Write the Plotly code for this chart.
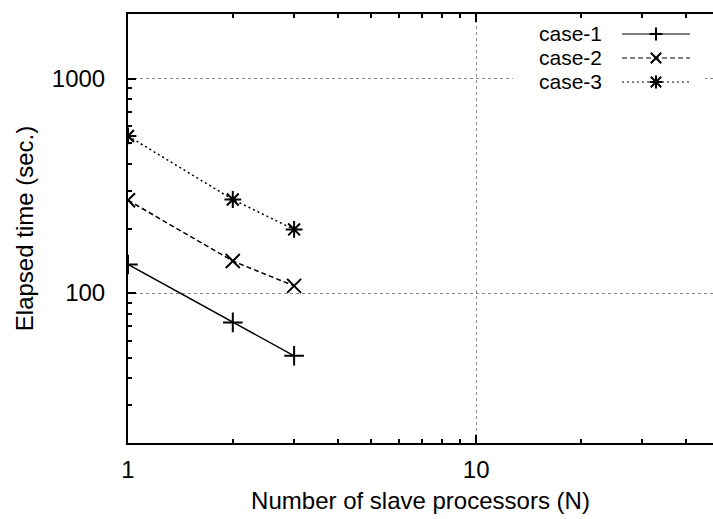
import numpy as np
import plotly.graph_objects as go

# ---- data ----
processors = [1, 2, 3]
case1 = [136, 73, 51]
case2 = [271, 141, 108]
case3 = [540, 273, 198]
series_names = ["case-1", "case-2", "case-3"]
x_tick_vals = [1, 10]
x_tick_text = ["1", "10"]
y_tick_vals = [100, 1000]
y_tick_text = ["100", "1000"]
x_minor = [2, 3, 4, 5, 6, 7, 8, 9, 20, 30, 40]
y_minor = [30, 40, 50, 60, 70, 80, 90, 200, 300, 400, 500, 600, 700, 800, 900, 2000]

FONT = "Liberation Sans, Arial, Helvetica, sans-serif"

W, H = 713, 519
ML, MR, MT, MB = 128, 0, 14, 76
PW, PH = W - ML - MR, H - MT - MB

def px(x):
    return (x - ML) / PW

def py(y):
    return (H - MB - y) / PH

styles = [
    dict(dash="solid", symbol="cross-thin-open"),
    dict(dash="5px,3px", symbol="x-thin-open"),
    dict(dash="2px,3px", symbol="asterisk-open"),
]

fig = go.Figure()
for name, vals, st in zip(series_names, [case1, case2, case3], styles):
    fig.add_trace(go.Scatter(
        x=processors, y=vals, name=name, mode="lines+markers",
        line=dict(color="black", width=1.5, dash=st["dash"]),
        marker=dict(symbol=st["symbol"], size=14, color="black",
                    line=dict(color="black", width=2)),
        showlegend=False,
    ))

# ---- hand-made gnuplot-style key (text right-aligned, sample to the right) ----
shapes = [dict(type="rect", xref="paper", yref="paper", layer="above",
               x0=px(513), x1=px(705), y0=py(94), y1=py(22),
               fillcolor="white", line=dict(width=0))]
annotations = []
rows_y = [34, 58, 82]
marker_half = 6.5
for name, st, ry in zip(series_names, styles, rows_y):
    annotations.append(dict(text=name, xref="paper", yref="paper",
                            x=px(603), y=py(ry), xanchor="right", yanchor="middle",
                            showarrow=False, borderpad=0,
                            font=dict(family=FONT, size=21, color="black")))
    shapes.append(dict(type="line", xref="paper", yref="paper", layer="above",
                       x0=px(622), x1=px(690), y0=py(ry), y1=py(ry),
                       line=dict(color="black", width=1, dash=st["dash"])))
    segs = []
    if st["symbol"] in ("cross-thin-open", "asterisk-open"):
        segs += [(-marker_half, 0, marker_half, 0), (0, -marker_half, 0, marker_half)]
    if st["symbol"] in ("x-thin-open", "asterisk-open"):
        d = marker_half * 0.8
        segs += [(-d, -d, d, d), (-d, d, d, -d)]
    for (a, b, c, d_) in segs:
        shapes.append(dict(type="line", xref="paper", yref="paper", layer="above",
                           xsizemode="pixel", ysizemode="pixel",
                           xanchor=px(656), yanchor=py(ry),
                           x0=a, x1=c, y0=b, y1=d_,
                           line=dict(color="black", width=2)))

fig.update_layout(
    width=W, height=H,
    margin=dict(l=ML, r=MR, t=MT, b=MB),
    paper_bgcolor="white", plot_bgcolor="white",
    font=dict(family=FONT, size=24, color="black"),
    showlegend=False,
    shapes=shapes,
    annotations=annotations,
)

fig.update_xaxes(
    type="log", range=[0, np.log10(47.9)],
    tickmode="array", tickvals=x_tick_vals, ticktext=x_tick_text,
    ticks="inside", ticklen=8, tickwidth=1.5, tickcolor="black",
    showline=True, linecolor="black", linewidth=2, mirror="ticks",
    showgrid=True, gridcolor="#888888", griddash="dot", gridwidth=1,
    zeroline=False,
    minor=dict(tickmode="array", tickvals=x_minor, ticks="inside", ticklen=4,
               tickcolor="black", tickwidth=1.5, showgrid=False),
    tickfont=dict(size=24), ticklabelstandoff=4,
    title=dict(text="Number of slave processors (N)", font=dict(size=24), standoff=10),
)
fig.update_yaxes(
    type="log", range=[np.log10(20), np.log10(2000)],
    tickmode="array", tickvals=y_tick_vals, ticktext=y_tick_text,
    ticks="inside", ticklen=8, tickwidth=1.5, tickcolor="black",
    showline=True, linecolor="black", linewidth=2, mirror=False,
    showgrid=True, gridcolor="#888888", griddash="dot", gridwidth=1,
    zeroline=False,
    minor=dict(tickmode="array", tickvals=y_minor, ticks="inside", ticklen=4,
               tickcolor="black", tickwidth=1.5, showgrid=False),
    tickfont=dict(size=24), ticklabelstandoff=16,
    title=dict(text="Elapsed time (sec.)", font=dict(size=24), standoff=11),
)

fig.write_html("out.html")
